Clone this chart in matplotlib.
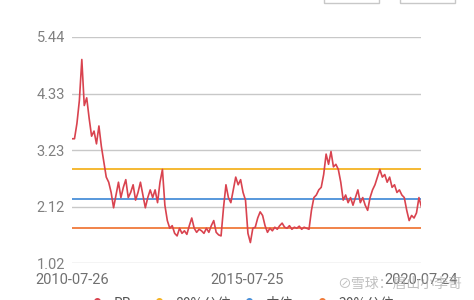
import matplotlib
matplotlib.use("Agg")
import matplotlib.pyplot as plt
import pandas as pd
from matplotlib.lines import Line2D
from matplotlib.patches import Rectangle

# PB values, roughly evenly spaced in time
pb = [3.45, 3.45, 3.75, 4.2, 5.0, 4.1, 4.25, 3.85, 3.5, 3.6,
      3.35, 3.7, 3.3, 3.0, 2.7, 2.6, 2.4, 2.1, 2.35, 2.6,
      2.3, 2.5, 2.65, 2.3, 2.4, 2.55, 2.25, 2.4, 2.6, 2.35,
      2.1, 2.3, 2.45, 2.3, 2.45, 2.2, 2.6, 2.85, 2.15, 1.85,
      1.7, 1.75, 1.6, 1.55, 1.7, 1.6, 1.65, 1.58, 1.75, 1.9,
      1.7, 1.62, 1.68, 1.65, 1.6, 1.7, 1.62, 1.75, 1.85, 1.62,
      1.57, 1.55, 2.1, 2.55, 2.3, 2.2, 2.45, 2.7, 2.55, 2.65,
      2.4, 2.25, 1.6, 1.42, 1.7, 1.72, 1.9, 2.02, 1.95, 1.75,
      1.62, 1.7, 1.65, 1.72, 1.68, 1.75, 1.8, 1.72, 1.7, 1.75,
      1.68, 1.72, 1.7, 1.74, 1.68, 1.72, 1.7, 1.68, 2.05, 2.3,
      2.35, 2.45, 2.5, 2.75, 3.15, 2.95, 3.2, 2.9, 2.95, 2.85,
      2.6, 2.25, 2.35, 2.2, 2.3, 2.15, 2.3, 2.45, 2.2, 2.3,
      2.15, 2.05, 2.3, 2.45, 2.55, 2.7, 2.85, 2.7, 2.75, 2.6,
      2.7, 2.5, 2.55, 2.4, 2.45, 2.35, 2.3, 2.05, 1.85, 1.95,
      1.9, 2.0, 2.3, 2.12]
dates = pd.date_range("2010-07-26", "2020-07-24", periods=len(pb))

danger = 2.85   # 80%
median = 2.27
chance = 1.70   # 20%

yticks = [1.02, 2.12, 3.23, 4.33, 5.44]
xticks = ["2010-07-26", "2015-07-25", "2020-07-24"]
legend_labels = ["PB", "80%分位", "中位", "20%分位"]
colors = ["#d9434f", "#f5b323", "#4a90d9", "#f07a3a"]

plt.rcParams["font.family"] = ["Roboto", "Noto Sans CJK SC", "DejaVu Sans"]

fig = plt.figure(figsize=(4.74, 3.0), dpi=100)
ax = fig.add_axes([0.152, 0.1233, 0.737, 0.7534])

for y in yticks:
    ax.axhline(y, color="#c8c8c8", lw=1, zorder=1)
ax.axhline(danger, color=colors[1], lw=1.3, zorder=2)
ax.axhline(median, color=colors[2], lw=1.3, zorder=2)
ax.axhline(chance, color=colors[3], lw=1.3, zorder=2)
ax.plot(dates, pb, color=colors[0], lw=1.2, zorder=3)

ax.set_ylim(1.02, 5.44)
ax.set_xlim(pd.Timestamp(xticks[0]), pd.Timestamp(xticks[-1]))
ax.set_yticks(yticks)
ax.set_yticklabels(["%.2f" % v for v in yticks])
ax.set_xticks([pd.Timestamp(d) for d in xticks])
ax.set_xticklabels(xticks)
ax.tick_params(length=0, labelsize=10.5, colors="#808080", pad=5)
ax.tick_params(axis="x", pad=7, colors="#707070")
for s in ax.spines.values():
    s.set_visible(False)
ax.patch.set_visible(False)

# watermark
fig.text(0.975, 0.055, "⊘雪球：眉山小李哥", ha="right", va="center", fontsize=10,
         color="#b0b0b0", alpha=0.8, family=["Noto Sans CJK SC", "DejaVu Sans"])

# legend (cut off at the bottom)
lx = [0.205, 0.335, 0.525, 0.68]
for x, c, lab in zip(lx, colors, legend_labels):
    fig.add_artist(Line2D([x], [-0.003], marker="o", ms=4, color=c, transform=fig.transFigure))
    fig.text(x + 0.035, -0.012, lab, fontsize=10, color="#555555", va="center",
             family=["Noto Sans CJK SC", "DejaVu Sans"])

# buttons at top right
for bx in [324, 400]:
    fig.add_artist(Rectangle((bx / 474, 1 - 3 / 300), 55 / 474, 0.05, transform=fig.transFigure,
                             fill=False, ec="#c8c8c8", lw=1))

fig.savefig("out.png", dpi=100)
